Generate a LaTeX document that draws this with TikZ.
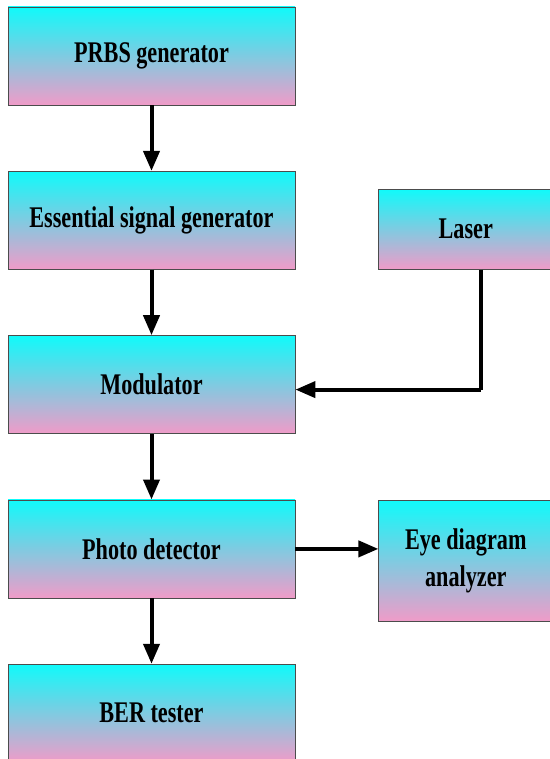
\documentclass[tikz,border=0pt]{standalone}
\usepackage{fontspec}
\setmainfont{Liberation Serif}[FakeStretch=0.74]
\usetikzlibrary{arrows.meta, positioning}
\definecolor{topcyan}{RGB}{16,250,250}
\definecolor{botpink}{RGB}{240,155,200}
\tikzset{node distance=65.5pt, % Gap between two boxes of the chain
  block/.style={ % Sets the properties for each box
    draw=black!70,
    line width=0.8pt,
    top color=topcyan,
    bottom color=botpink,
    minimum width=287pt,
    minimum height=98pt,
    align=center,
    font=\bfseries\fontsize{30}{37}\selectfont},
  every edge/.style={ % Sets the properties for each link
    draw,
    -{Triangle[length=20pt,width=16pt]},
    line width=4pt}}

\begin{document}
\begin{tikzpicture}[x=1pt,y=1pt]
  \useasboundingbox (0,0) rectangle (549,-759);
  \node[block] (prbs) at (151.5,-56) {PRBS generator};
  \node[block, below=of prbs] (esg) {Essential signal generator};
  \node[block, below=of esg] (mod) {Modulator};
  \node[block, below=of mod] (pd) {Photo detector};
  \node[block, below=of pd] (ber) {BER tester};
  \node[block, minimum width=174pt, minimum height=80pt, right=83pt of esg, yshift=-9pt] (laser) {Laser};
  \node[block, minimum width=174pt, minimum height=121pt, right=83pt of pd, yshift=-12pt] (eye) {Eye diagram\\analyzer};
  \coordinate (bend) at ([xshift=15pt]laser.south |- mod.east);
  \draw (prbs) edge (esg);
  \draw (esg) edge (mod);
  \draw (mod) edge (pd);
  \draw (pd) edge (ber);
  \draw (pd.east) edge (pd.east -| eye.west);
  \draw[line width=4pt, line join=round] ([xshift=15pt]laser.south) -- ([yshift=-5pt]bend) edge ([yshift=-5pt]mod.east);
\end{tikzpicture}
\end{document}
